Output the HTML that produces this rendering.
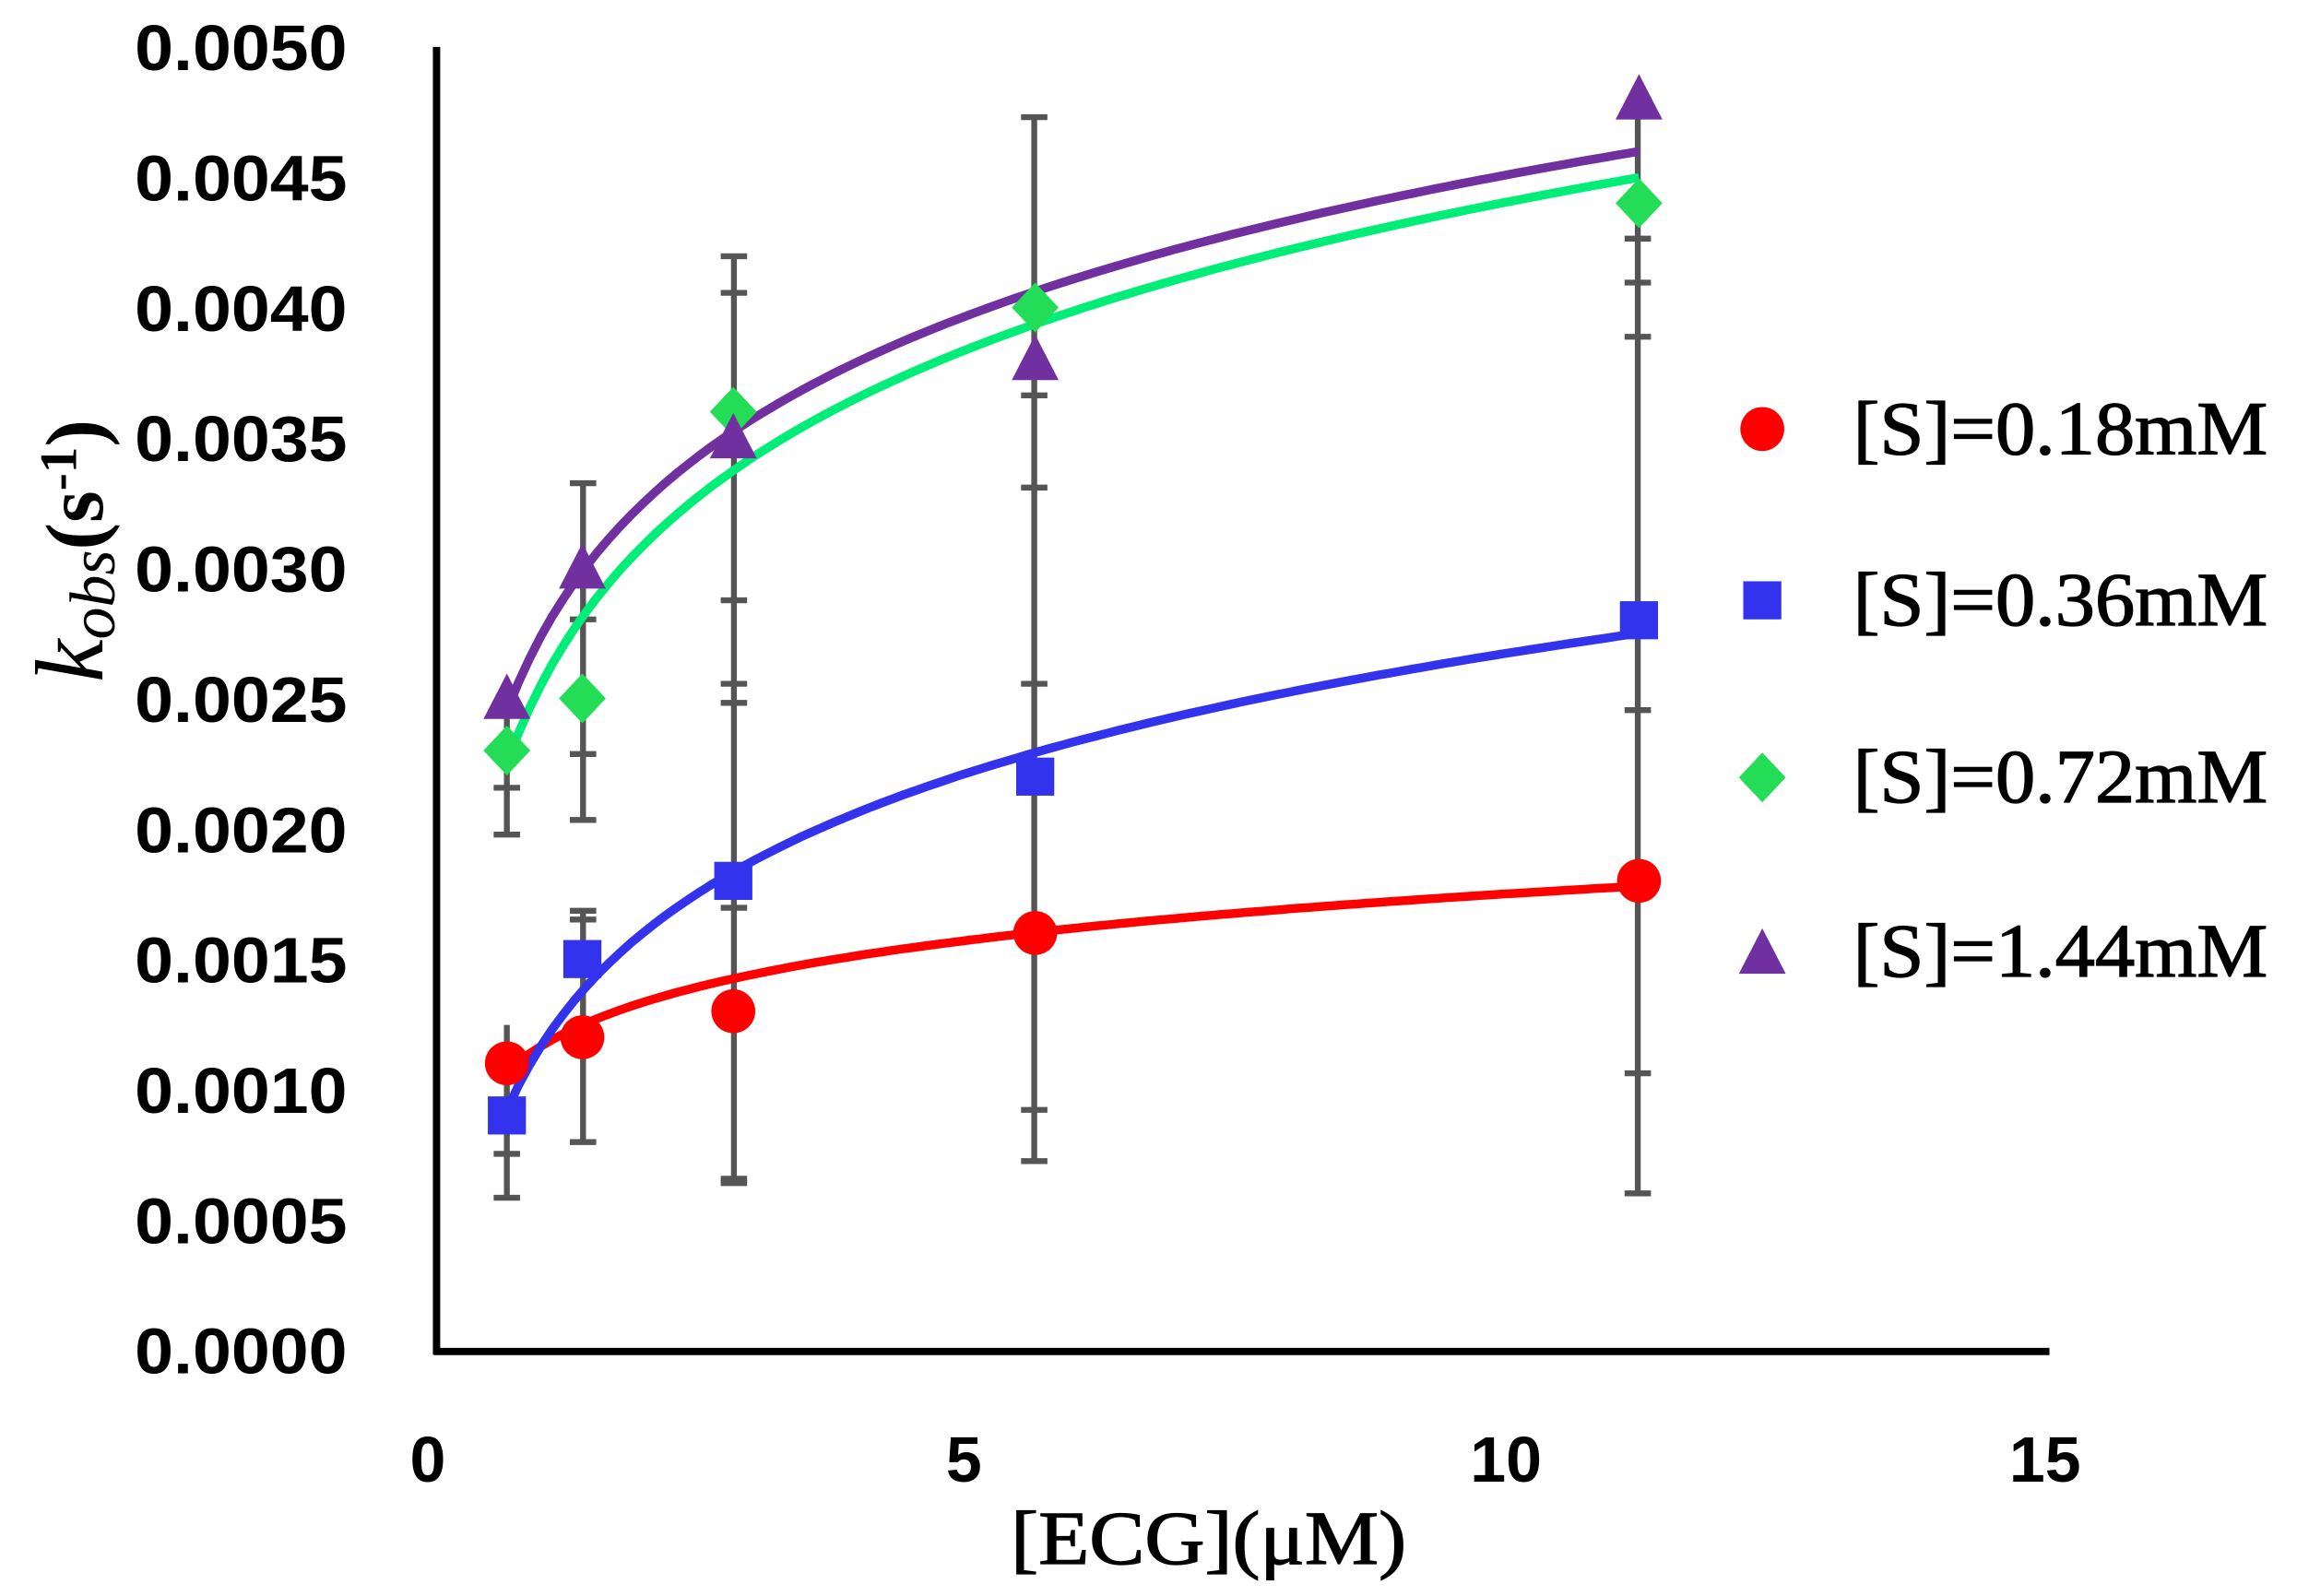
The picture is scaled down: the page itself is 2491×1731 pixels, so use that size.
<!DOCTYPE html>
<html><head><meta charset="utf-8"><style>html,body{margin:0;padding:0;background:#fff}svg{display:block}</style></head>
<body>
<svg id="s" width="2491" height="1731" viewBox="0 0 1568 1090" preserveAspectRatio="none" xmlns="http://www.w3.org/2000/svg">
<rect width="1568" height="1090" fill="#fff"/>
<g font-family="'Liberation Sans',sans-serif" font-weight="bold" font-size="44" text-anchor="end">
<text x="237" y="48" textLength="145" lengthAdjust="spacingAndGlyphs">0.0050</text>
<text x="237" y="137" textLength="145" lengthAdjust="spacingAndGlyphs">0.0045</text>
<text x="237" y="226" textLength="145" lengthAdjust="spacingAndGlyphs">0.0040</text>
<text x="237" y="315" textLength="145" lengthAdjust="spacingAndGlyphs">0.0035</text>
<text x="237" y="404" textLength="145" lengthAdjust="spacingAndGlyphs">0.0030</text>
<text x="237" y="493" textLength="145" lengthAdjust="spacingAndGlyphs">0.0025</text>
<text x="237" y="582" textLength="145" lengthAdjust="spacingAndGlyphs">0.0020</text>
<text x="237" y="671" textLength="145" lengthAdjust="spacingAndGlyphs">0.0015</text>
<text x="237" y="760" textLength="145" lengthAdjust="spacingAndGlyphs">0.0010</text>
<text x="237" y="849" textLength="145" lengthAdjust="spacingAndGlyphs">0.0005</text>
<text x="237" y="938" textLength="145" lengthAdjust="spacingAndGlyphs">0.0000</text>
</g>
<g font-family="'Liberation Sans',sans-serif" font-weight="bold" font-size="44" text-anchor="middle">
<text x="292" y="1012">0</text><text x="658" y="1012">5</text><text x="1028" y="1012">10</text><text x="1396" y="1012">15</text>
</g>
<text x="690" y="1068" textLength="270" lengthAdjust="spacingAndGlyphs" font-family="'Liberation Serif',serif" font-size="52" stroke="#000" stroke-width="0.8">[ECG](μM)</text>
<g transform="translate(70,466) rotate(-90)" font-family="'Liberation Serif',serif" font-size="56">
<text x="0" y="0"><tspan font-style="italic" font-size="66">k</tspan><tspan font-style="italic" font-size="44" dy="8">obs</tspan><tspan dy="-8" font-weight="bold">(s</tspan><tspan font-size="36" dy="-18" font-weight="bold">-1</tspan><tspan dy="18" font-weight="bold">)</tspan></text>
</g>
<g id="eb" stroke="#555" stroke-width="4" fill="none"></g>
<g id="cv" fill="none" stroke-width="6"></g>
<g id="mk"></g>
<line x1="298" y1="32" x2="298" y2="925" stroke="#000" stroke-width="5"/>
<line x1="296" y1="923" x2="1399" y2="923" stroke="#000" stroke-width="5"/>
<g font-family="'Liberation Serif',serif" font-size="52" stroke="#000" stroke-width="0.8">
<circle cx="1203" cy="293" r="15" fill="#f00" stroke="none"/><text x="1265" y="310" textLength="283" lengthAdjust="spacingAndGlyphs">[S]=0.18mM</text>
<rect x="1190" y="397" width="26" height="26" fill="#3333ee" stroke="none"/><text x="1265" y="427" textLength="283" lengthAdjust="spacingAndGlyphs">[S]=0.36mM</text>
<polygon points="1203,514 1219,531 1203,548 1187,531" fill="#22dd55" stroke="none"/><text x="1265" y="548" textLength="283" lengthAdjust="spacingAndGlyphs">[S]=0.72mM</text>
<polygon points="1203,634 1219,665 1187,665" fill="#7030a0" stroke="none"/><text x="1265" y="667" textLength="283" lengthAdjust="spacingAndGlyphs">[S]=1.44mM</text>
</g>
<script>
var NS="http://www.w3.org/2000/svg";
function X(v){return 294.5+v*73.6}function Y(v){return 922-v/0.005*890}
function el(t,a,p){var e=document.createElementNS(NS,t);for(var k in a)e.setAttribute(k,a[k]);p.appendChild(e);return e}
var eb=document.getElementById('eb');
var bars=[[346,[490,570],[700,818],[538,570,788,818]],[398,[330,560],[622,780],[330,423,515,560,622,628,780]],[501,[175,808],null,[175,200,410,467,480,620,805,808]],[706,[80,793],null,[80,270,333,467,758,793]],[1118,[65,815],null,[163,193,230,485,733,815]]];
bars.forEach(function(b){el('line',{x1:b[0],x2:b[0],y1:b[1][0],y2:b[1][1]},eb);if(b[2])el('line',{x1:b[0],x2:b[0],y1:b[2][0],y2:b[2][1]},eb);b[3].forEach(function(c){el('line',{x1:b[0]-9,x2:b[0]+9,y1:c,y2:c},eb)})});
var cv=document.getElementById('cv');
var fits=[[0.00107,0.000256,'#f00'],[0.00092,0.00066,'#3333ee'],[0.00225,0.000811,'#00ee77'],[0.00245,0.000775,'#7030a0']];
fits.forEach(function(f){var d='';for(var i=0;i<=100;i++){var x=0.7+i*(10.5/100);var y=f[0]+f[1]*Math.log(x/0.7);d+=(i?'L':'M')+X(x).toFixed(1)+','+Y(y).toFixed(1)}el('path',{d:d,stroke:f[2]},cv)});
var xs=[0.7,1.4,2.8,5.6,11.2];
var mk=document.getElementById('mk');
var R=[0.0011,0.0012,0.0013,0.0016,0.0018],B=[0.0009,0.0015,0.0018,0.0022,0.0028],G=[0.0023,0.0025,0.0036,0.0040,0.0044],P=[0.0025,0.0030,0.0035,0.0038,0.0048];
xs.forEach(function(x,i){var cx=X(x);
var y=Y(R[i]);el('circle',{cx:cx,cy:y,r:15,fill:'#f00'},mk);
y=Y(B[i]);el('rect',{x:cx-13,y:y-13,width:26,height:26,fill:'#3333ee'},mk);
y=Y(G[i]);el('polygon',{points:[cx,y-17,cx+16,y,cx,y+17,cx-16,y].join(' '),fill:'#22dd55'},mk);
y=Y(P[i]);el('polygon',{points:[cx,y-17,cx+16,y+14,cx-16,y+14].join(' '),fill:'#7030a0'},mk);});
</script>
</svg>
</body></html>
